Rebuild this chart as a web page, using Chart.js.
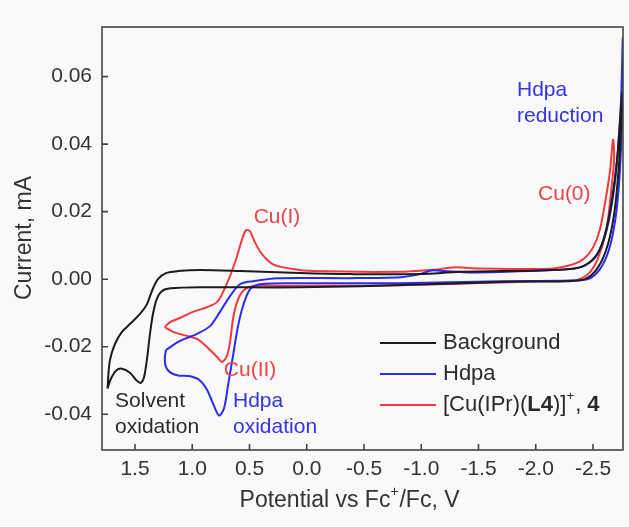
<!DOCTYPE html>
<html lang="en">
<head>
<meta charset="UTF-8">
<title>Cyclic voltammograms – Background, Hdpa, [Cu(IPr)(L4)]+</title>
<style>
  html, body { margin: 0; padding: 0; background: #f9f9f9; }
  #wrap { width: 629px; height: 527px; }
</style>
</head>
<body>
<div id="wrap"><canvas id="cv"></canvas></div>

<script src="https://cdn.jsdelivr.net/npm/chart.js"></script>
<script>
  // each scan is one closed loop: potential in V vs Fc+/Fc, current in mA
  const bgPotential = [1.74, 1.72, 1.675, 1.614, 1.544, 1.456, 1.395, 1.352, 1.30, 1.23, 1.125, 0.93, 0.58, 0.06, -0.38, -0.99, -1.34, -2.04, -2.30, -2.43, -2.535, -2.605, -2.666, -2.71, -2.755,
    -2.745, -2.73, -2.69, -2.63, -2.544, -2.43, -2.255, -1.69, -0.99, 0.06, 0.93, 1.19, 1.264, 1.31, 1.343, 1.369, 1.395, 1.42, 1.448, 1.483, 1.544, 1.614, 1.666, 1.71, 1.74];
  const bgCurrent = [-0.0324, -0.0242, -0.0192, -0.0156, -0.0133, -0.0103, -0.0074, -0.0035, 0.0, 0.0018, 0.0024, 0.0027, 0.0024, 0.0018, 0.0015, 0.0015, 0.0022, 0.0026, 0.003, 0.0041, 0.0074, 0.0133, 0.0236, 0.0354, 0.055,
    0.045, 0.0354, 0.0206, 0.0103, 0.0035, 0.0, -0.0006, -0.0008, -0.0016, -0.0024, -0.0024, -0.0027, -0.0035, -0.0059, -0.0103, -0.0162, -0.0236, -0.0289, -0.0307, -0.0301, -0.0277, -0.0265, -0.0271, -0.0295, -0.0324];

  const hdpaPotential = [1.23, 1.107, 0.958, 0.845, 0.758, 0.67, 0.583, 0.47, 0.25, -0.38, -0.82, -0.99, -1.09, -1.2, -1.43, -2.04, -2.34, -2.474, -2.561, -2.631, -2.683, -2.718, -2.745, -2.76,
    -2.758, -2.748, -2.73, -2.695, -2.64, -2.561, -2.456, -2.30, -1.69, -0.815, 0.06, 0.408, 0.496, 0.557, 0.60, 0.644, 0.688, 0.723, 0.766, 0.819, 0.87, 0.94, 1.03, 1.124, 1.19, 1.23, 1.24, 1.23];
  const hdpaCurrent = [-0.021, -0.0183, -0.0162, -0.0139, -0.0097, -0.005, -0.0015, -0.0006, 0.0003, 0.0003, 0.0006, 0.0015, 0.0026, 0.0024, 0.002, 0.0026, 0.0032, 0.005, 0.0088, 0.0162, 0.0265, 0.0383, 0.0531, 0.0714,
    0.058, 0.042, 0.0295, 0.0177, 0.0088, 0.003, 0.0, -0.0004, -0.0006, -0.0012, -0.0012, -0.0015, -0.003, -0.008, -0.0139, -0.0227, -0.0316, -0.0383, -0.0404, -0.0368, -0.0328, -0.0298, -0.0287, -0.0285, -0.0277, -0.026, -0.0235, -0.021];

  const cuPotential = [1.24, 1.194, 1.107, 0.993, 0.871, 0.784, 0.731, 0.67, 0.609, 0.565, 0.531, 0.496, 0.452, 0.391, 0.295, 0.12, -0.055, -0.8, -1.1, -1.3, -1.5, -2.0, -2.21, -2.386, -2.49, -2.56, -2.61, -2.65, -2.675,
    -2.685, -2.66, -2.617, -2.54, -2.456, -2.343, -2.04, -0.815, 0.234, 0.47, 0.557, 0.609, 0.644, 0.67, 0.697, 0.74, 0.784, 0.871, 0.958, 1.046, 1.168, 1.24];
  const cuCurrent = [-0.0142, -0.0127, -0.0115, -0.0097, -0.0083, -0.0068, -0.0038, 0.0009, 0.0068, 0.0118, 0.0145, 0.0142, 0.0109, 0.0074, 0.0044, 0.003, 0.0024, 0.0022, 0.0028, 0.0035, 0.0032, 0.003, 0.0035, 0.0053, 0.0088, 0.0147, 0.0236, 0.0324, 0.0413,
    0.036, 0.0265, 0.0147, 0.0059, 0.0015, -0.0003, -0.0006, -0.0018, -0.002, -0.002, -0.0035, -0.0068, -0.0118, -0.0186, -0.0227, -0.0245, -0.023, -0.0201, -0.0177, -0.0168, -0.0156, -0.0142];

  const xTickValues = [1.5, 1.0, 0.5, 0.0, -0.5, -1.0, -1.5, -2.0, -2.5];
  const yTickValues = [-0.04, -0.02, 0.00, 0.02, 0.04, 0.06];

  const BLACK = '#1c1c1c';
  const BLUE = '#2a2af2';
  const RED = '#f03a3e';
  const FONT = "'Liberation Sans', Arial, Helvetica, sans-serif";

  // peak labels placed in data units
  const notes = [
    { lines: ['Cu(I)'], x: 0.26, y: 0.0183, color: '#e8454a', align: 'center' },
    { lines: ['Cu(II)'], x: 0.495, y: -0.0271, color: '#e8454a', align: 'center' },
    { lines: ['Solvent', 'oxidation'], x: 1.674, y: -0.036, color: '#2a2a2a', align: 'left' },
    { lines: ['Hdpa', 'oxidation'], x: 0.644, y: -0.036, color: '#3434e0', align: 'left' },
    { lines: ['Hdpa', 'reduction'], x: -1.836, y: 0.056, color: '#3434e0', align: 'left' },
    { lines: ['Cu(0)'], x: -2.02, y: 0.0251, color: '#e8454a', align: 'left' }
  ];

  function toPoints(xs, ys) {
    return xs.map((x, i) => ({ x: x, y: ys[i] }));
  }

  function series(label, xs, ys, color) {
    return {
      label: label,
      data: toPoints(xs, ys),
      borderColor: color,
      backgroundColor: color,
      borderWidth: 2,
      pointRadius: 0,
      showLine: true,
      tension: 0.3
    };
  }

  // draws a run of [text, bold, superscript] pieces from x
  function richText(ctx, parts, x, y, size) {
    parts.forEach(p => {
      const s = p[2] ? size * 0.6 : size;
      ctx.font = (p[1] ? 'bold ' : '') + s + 'px ' + FONT;
      ctx.fillText(p[0], x, p[2] ? y - size * 0.38 : y);
      x += ctx.measureText(p[0]).width + (p[2] ? 1 : 0);
    });
    return x;
  }

  const decor = {
    id: 'decor',
    afterDatasetsDraw(chart) {
      const ctx = chart.ctx;
      const a = chart.chartArea;
      const xs = chart.scales.x;
      const ys = chart.scales.y;
      ctx.save();

      // frame and inward ticks
      ctx.strokeStyle = '#444';
      ctx.lineWidth = 1.6;
      ctx.strokeRect(a.left, a.top, a.right - a.left, a.bottom - a.top);
      ctx.beginPath();
      xTickValues.forEach(v => {
        const px = xs.getPixelForValue(v);
        ctx.moveTo(px, a.bottom);
        ctx.lineTo(px, a.bottom - 6);
      });
      yTickValues.forEach(v => {
        const py = ys.getPixelForValue(v);
        ctx.moveTo(a.left, py);
        ctx.lineTo(a.left + 6, py);
      });
      ctx.stroke();

      // peak labels
      ctx.textBaseline = 'middle';
      ctx.font = '21px ' + FONT;
      notes.forEach(n => {
        ctx.fillStyle = n.color;
        ctx.textAlign = n.align;
        const px = xs.getPixelForValue(n.x);
        const py = ys.getPixelForValue(n.y);
        n.lines.forEach((t, i) => ctx.fillText(t, px, py + i * 26));
      });

      // legend
      ctx.textAlign = 'left';
      const rows = [343, 374, 405];
      chart.data.datasets.forEach((ds, i) => {
        ctx.strokeStyle = ds.borderColor;
        ctx.lineWidth = 2;
        ctx.beginPath();
        ctx.moveTo(380, rows[i]);
        ctx.lineTo(436, rows[i]);
        ctx.stroke();
        ctx.fillStyle = '#2a2a2a';
        if (i < 2) {
          ctx.font = '22px ' + FONT;
          ctx.fillText(ds.label, 443, rows[i]);
        } else {
          richText(ctx, [['[Cu(IPr)(', false], ['L4', true], [')]', false], ['+', false, true], [', ', false], ['4', true]], 443, rows[i], 22);
        }
      });

      // axis titles
      ctx.fillStyle = '#333';
      ctx.textAlign = 'left';
      ctx.font = '23px ' + FONT;
      const titleW = ctx.measureText('Potential vs Fc/Fc, V').width + 10;
      richText(ctx, [['Potential vs Fc', false], ['+', false, true], ['/Fc, V', false]], 350 - titleW / 2, 501, 23);

      ctx.translate(25, 238);
      ctx.rotate(-Math.PI / 2);
      ctx.textAlign = 'center';
      ctx.font = '23px ' + FONT;
      ctx.fillText('Current, mA', 0, 0);
      ctx.restore();
    }
  };

  Chart.defaults.font.family = FONT;
  Chart.defaults.color = '#333';

  new Chart(document.getElementById('cv'), {
    type: 'scatter',
    data: {
      datasets: [
        series('Background', bgPotential, bgCurrent, BLACK),
        series('Hdpa', hdpaPotential, hdpaCurrent, BLUE),
        series('[Cu(IPr)(L4)]+, 4', cuPotential, cuCurrent, RED)
      ]
    },
    options: {
      responsive: true,
      maintainAspectRatio: false,
      animation: false,
      layout: { padding: { top: 27, right: 6, left: 0, bottom: 0 } },
      plugins: {
        legend: { display: false },
        tooltip: { enabled: false }
      },
      scales: {
        x: {
          type: 'linear',
          reverse: true,
          min: -2.762,
          max: 1.788,
          afterBuildTicks: s => { s.ticks = xTickValues.map(v => ({ value: v })); },
          afterFit: s => { s.height = 77; },
          grid: { display: false, drawTicks: false },
          border: { display: false },
          ticks: {
            padding: 7,
            font: { size: 21 },
            color: '#333',
            callback: v => v.toFixed(1)
          }
        },
        y: {
          type: 'linear',
          min: -0.0506,
          max: 0.0747,
          afterBuildTicks: s => { s.ticks = yTickValues.map(v => ({ value: v })); },
          afterFit: s => { s.width = 102; },
          grid: { display: false, drawTicks: false },
          border: { display: false },
          ticks: {
            padding: 10,
            font: { size: 21 },
            color: '#333',
            callback: v => v.toFixed(2)
          }
        }
      }
    },
    plugins: [decor]
  });
</script>
</body>
</html>
